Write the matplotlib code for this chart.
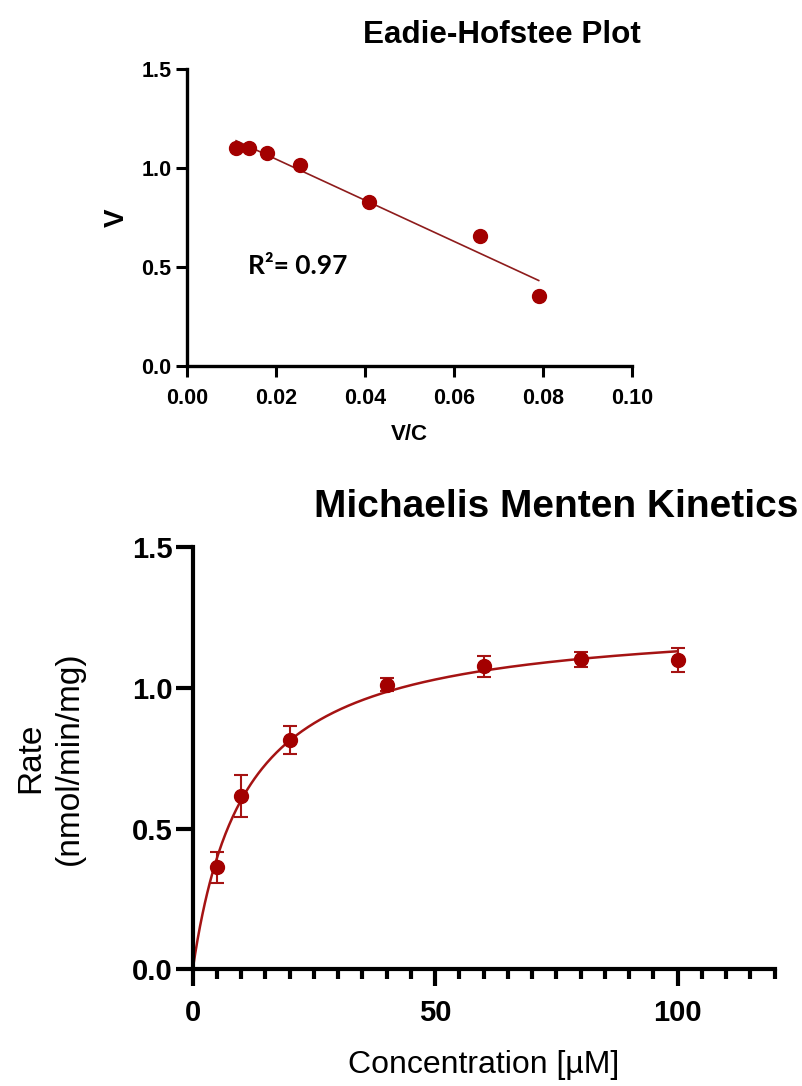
import numpy as np
import matplotlib
matplotlib.use("Agg")
import matplotlib.pyplot as plt

# ---- data -------------------------------------------------------------
# Eadie-Hofstee transform: V/C against V
eh_v_over_c = [0.0111, 0.0139, 0.0180, 0.0255, 0.0410, 0.0660, 0.0791]
eh_v = [1.100, 1.102, 1.077, 1.016, 0.827, 0.658, 0.354]

# Michaelis-Menten: substrate concentration (µM), mean rate and error
mm_conc = [5, 10, 20, 40, 60, 80, 100]
mm_rate = [0.363, 0.616, 0.815, 1.011, 1.076, 1.101, 1.098]
mm_err = [0.055, 0.075, 0.049, 0.024, 0.037, 0.026, 0.043]

eh_xticks = [0.00, 0.02, 0.04, 0.06, 0.08, 0.10]
eh_yticks = [0.0, 0.5, 1.0, 1.5]
mm_xticks = [0, 50, 100]
mm_yticks = [0.0, 0.5, 1.0, 1.5]

# ---- styling ----------------------------------------------------------
SANS = "Liberation Sans"
POINT = "#a30000"
FIT = "#8e1c1c"
CURVE = "#a51313"

plt.rcParams["font.family"] = [SANS, "DejaVu Sans"]

fig = plt.figure(figsize=(8.03, 10.86), dpi=100)

# ---- Eadie-Hofstee panel ---------------------------------------------
ax1 = fig.add_axes([0.2325, 0.6630, 0.5542, 0.2732])
x = np.asarray(eh_v_over_c)
y = np.asarray(eh_v)
slope, intercept = np.polyfit(x, y, 1)
pred = slope * x + intercept
r2 = 1 - np.sum((y - pred) ** 2) / np.sum((y - y.mean()) ** 2)

xl = np.array([x.min(), x.max()])
ax1.plot(xl, slope * xl + intercept, color=FIT, lw=1.2, zorder=2)
ax1.plot(x, y, "o", color=POINT, ms=10, mec=POINT, zorder=3)

ax1.set_xlim(0, 0.10)
ax1.set_ylim(0, 1.5)
ax1.set_xticks(eh_xticks)
ax1.set_xticklabels([f"{t:.2f}" for t in eh_xticks])
ax1.set_yticks(eh_yticks)
ax1.set_yticklabels([f"{t:.1f}" for t in eh_yticks])
for s in ("top", "right"):
    ax1.spines[s].set_visible(False)
for s in ("left", "bottom"):
    ax1.spines[s].set_linewidth(2.4)
ax1.tick_params(width=2.2, length=8, labelsize=15.5, pad=3)
ax1.tick_params(axis="x", pad=8)
for lab in ax1.get_xticklabels() + ax1.get_yticklabels():
    lab.set_fontweight("bold")
ax1.set_xlabel("V/C", fontsize=16, fontweight="bold", labelpad=11)
ax1.set_ylabel("V", fontsize=20, fontweight="bold", labelpad=8)
ax1.text(0.0138, 0.466, f"R²= {r2:.2f}", fontsize=19, fontweight="bold",
         family=["Lato", "DejaVu Sans"], ha="left", va="baseline")
fig.text(641 / 803, 1 - 43 / 1086, "Eadie-Hofstee Plot", fontsize=22.6,
         fontweight="bold", ha="right", va="baseline")

# ---- Michaelis-Menten panel ------------------------------------------
ax2 = fig.add_axes([0.2400, 0.1073, 0.7248, 0.3890])
c = np.asarray(mm_conc, dtype=float)
v = np.asarray(mm_rate)

# least-squares fit of V = Vmax*C/(Km + C); Vmax is linear for a fixed Km
best = None
for km in np.linspace(1, 40, 3901):
    g = c / (km + c)
    vmax = np.dot(g, v) / np.dot(g, g)
    sse = np.sum((v - vmax * g) ** 2)
    if best is None or sse < best[0]:
        best = (sse, km, vmax)
_, km_fit, vmax_fit = best
cc = np.linspace(0, c.max(), 400)
ax2.plot(cc, vmax_fit * cc / (km_fit + cc), color=CURVE, lw=1.8, zorder=2)
ax2.errorbar(c, v, yerr=mm_err, fmt="o", color=POINT, ms=10, mec=POINT,
             ecolor=CURVE, elinewidth=1.5, capsize=5, capthick=1.5, zorder=3)

ax2.set_xlim(0, 120)
ax2.set_ylim(0, 1.5)
ax2.set_xticks(mm_xticks)
ax2.set_xticks(np.arange(0, 121, 5), minor=True)
ax2.set_yticks(mm_yticks)
ax2.set_yticklabels([f"{t:.1f}" for t in mm_yticks])
for s in ("top", "right"):
    ax2.spines[s].set_visible(False)
for s in ("left", "bottom"):
    ax2.spines[s].set_linewidth(3)
ax2.tick_params(which="major", width=3, length=12.5, labelsize=21, pad=2)
ax2.tick_params(axis="x", which="major", pad=9)
ax2.tick_params(which="minor", width=3, length=7)
for lab in ax2.get_xticklabels() + ax2.get_yticklabels():
    lab.set_fontweight("bold")
ax2.set_xlabel("Concentration [µM]", fontsize=23, labelpad=16)
ax2.set_ylabel("Rate\n(nmol/min/mg)", fontsize=24, labelpad=34, linespacing=1.3)
fig.text(798 / 803, 1 - 517 / 1086, "Michaelis Menten Kinetics", fontsize=28,
         fontweight="bold", ha="right", va="baseline")

fig.savefig("out.png", dpi=100)
